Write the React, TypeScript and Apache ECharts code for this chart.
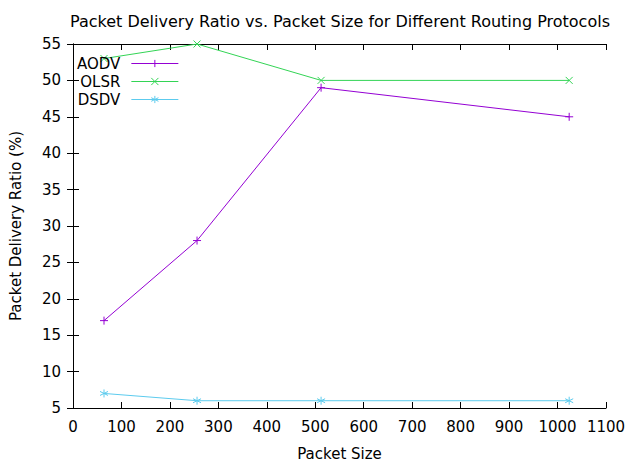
import React, { useEffect, useRef } from "react";
import * as echarts from "echarts";

const packetSizes = [64, 256, 512, 1024];
const aodv = [17, 28, 49, 45];
const olsr = [53, 55, 50, 50];
const dsdv = [7, 6, 6, 6];
const seriesNames = ["AODV", "OLSR", "DSDV"];
const colors = ["#9400d3", "#33d455", "#5ccbee"];

const PLUS = "path://M5,0L5,10M0,5L10,5";
const CROSS = "path://M0,0L10,10M0,10L10,0";
const STAR = "path://M5,0L5,10M0.7,2.5L9.3,7.5M0.7,7.5L9.3,2.5";

const FONT = "DejaVu Sans";

export default function App() {
  const ref = useRef<HTMLDivElement>(null);
  useEffect(() => {
    document.body.style.margin = "0";
    const chart = echarts.init(ref.current!, undefined, { renderer: "svg" });
    const mk = (name: string, data: number[], color: string, symbol: string, size: number) => ({
      name,
      type: "line",
      data: packetSizes.map((x, i) => [x, data[i]]),
      symbol,
      symbolSize: size,
      showSymbol: true,
      lineStyle: { color, width: 1 },
      itemStyle: { color, borderColor: color, borderWidth: 1 },
      emphasis: { disabled: true },
    });
    const tickCommon = {
      axisLine: { show: true, lineStyle: { color: "#000", width: 1 } },
      axisTick: { show: true, inside: true, length: 6, lineStyle: { color: "#000" } },
      splitLine: { show: false },
    };
    const plain = (v: number) => String(v);
    chart.setOption({
      animation: false,
      textStyle: { fontFamily: FONT },
      title: {
        text: "Packet Delivery Ratio vs. Packet Size for Different Routing Protocols",
        left: 335,
        textAlign: "center",
        top: 8,
        textStyle: { fontFamily: FONT, fontSize: 16, fontWeight: "normal", color: "#000" },
      },
      legend: {
        orient: "vertical",
        left: 72,
        top: 51,
        align: "right",
        itemWidth: 47,
        itemHeight: 9,
        itemGap: 3,
        data: seriesNames,
        lineStyle: { width: 1 },
        itemStyle: { borderWidth: 1 },
        textStyle: { fontFamily: FONT, fontSize: 15, color: "#000", padding: [0, 6, 0, 0] },
      },
      grid: { left: 73, right: 31, top: 44, bottom: 60 },
      xAxis: [
        {
          type: "value",
          min: 0,
          max: 1100,
          interval: 100,
          name: "Packet Size",
          nameLocation: "middle",
          nameGap: 38,
          nameTextStyle: { fontFamily: FONT, fontSize: 15, color: "#000" },
          axisLabel: { fontFamily: FONT, fontSize: 15, color: "#000", margin: 11, formatter: plain },
          ...tickCommon,
        },
        {
          type: "value",
          position: "top",
          min: 0,
          max: 1100,
          interval: 100,
          axisLabel: { show: false },
          ...tickCommon,
        },
      ],
      yAxis: [
        {
          type: "value",
          min: 5,
          max: 55,
          interval: 5,
          name: "Packet Delivery Ratio (%)",
          nameLocation: "middle",
          nameGap: 50,
          nameTextStyle: { fontFamily: FONT, fontSize: 15, color: "#000" },
          axisLabel: { fontFamily: FONT, fontSize: 15, color: "#000", margin: 12, formatter: plain },
          ...tickCommon,
        },
        {
          type: "value",
          position: "right",
          min: 5,
          max: 55,
          interval: 5,
          axisLabel: { show: false },
          ...tickCommon,
        },
      ],
      series: [
        mk("AODV", aodv, colors[0], PLUS, 8),
        mk("OLSR", olsr, colors[1], CROSS, 7),
        mk("DSDV", dsdv, colors[2], STAR, 8),
      ],
    });
    return () => chart.dispose();
  }, []);
  return <div ref={ref} style={{ width: 637, height: 468 }} />;
}
